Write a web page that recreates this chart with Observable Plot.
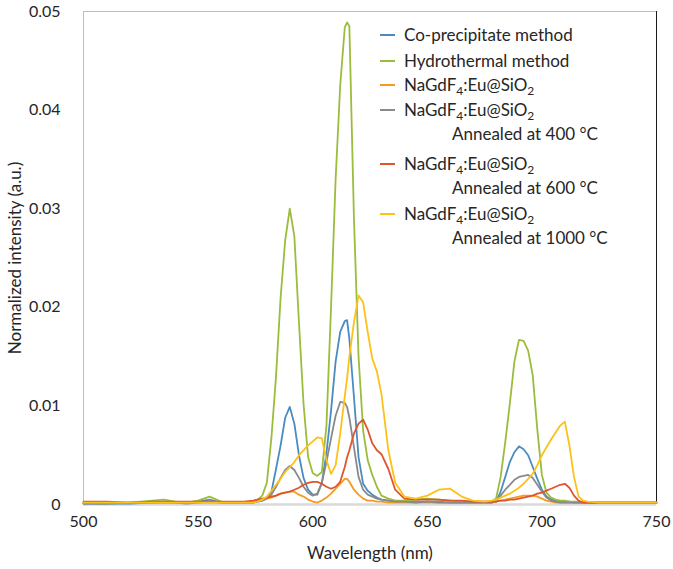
<!DOCTYPE html>
<html>
<head>
<meta charset="utf-8">
<script src="https://cdn.jsdelivr.net/npm/d3@7"></script>
<script src="https://cdn.jsdelivr.net/npm/@observablehq/plot@0.6"></script>
<style>
  html, body { margin: 0; padding: 0; background: #fff; }
  #chart svg { font-family: Lato, "Open Sans", sans-serif; }
</style>
</head>
<body>
<div id="chart"></div>
<script>
const wavelength = [500,510,520,530,535,540,545,550,555,560,
  565,570,574,576,578,580,582,584,586,588,
  590,592,594,596,598,600,602,604,606,608,
  610,612,614,615,616,618,620,622,624,626,
  628,630,633,636,640,645,650,655,660,665,
  670,675,678,680,682,684,686,688,690,692,
  694,696,698,700,702,704,706,708,710,712,
  714,716,718,720,725,730,740,750];

const coPrecipitate = [0.0001,0.0001,0.0001,0.0002,0.0003,0.0002,0.0002,0.0003,0.0005,0.0002,
  0.0002,0.0002,0.0002,0.0003,0.0004,0.0006,0.0013,0.0036,0.0060,0.0088,
  0.0099,0.0082,0.0050,0.0027,0.0015,0.0010,0.0010,0.0022,0.0052,0.0095,
  0.0145,0.0175,0.0186,0.0187,0.0168,0.0109,0.0048,0.0021,0.0014,0.0010,
  0.0007,0.0005,0.0004,0.0003,0.0003,0.0003,0.0003,0.0003,0.0002,0.0002,
  0.0002,0.0002,0.0002,0.0003,0.0013,0.0028,0.0043,0.0053,0.0059,0.0056,
  0.0050,0.0038,0.0026,0.0015,0.0008,0.0005,0.0004,0.0003,0.0003,0.0003,
  0.0002,0.0002,0.0002,0.0002,0.0002,0.0002,0.0002,0.0002];

const hydrothermal = [0.0002,0.0001,0.0002,0.0004,0.0005,0.0003,0.0002,0.0004,0.0008,0.0003,
  0.0002,0.0002,0.0003,0.0005,0.0009,0.0022,0.0068,0.0130,0.0210,0.0268,
  0.0300,0.0272,0.0185,0.0102,0.0048,0.0032,0.0029,0.0033,0.0080,0.0200,
  0.0330,0.0425,0.0484,0.0489,0.0485,0.0290,0.0150,0.0075,0.0045,0.0030,
  0.0018,0.0009,0.0006,0.0004,0.0004,0.0005,0.0006,0.0005,0.0004,0.0003,
  0.0003,0.0003,0.0003,0.0006,0.0028,0.0063,0.0102,0.0145,0.0167,0.0166,
  0.0156,0.0131,0.0076,0.0030,0.0012,0.0007,0.0005,0.0004,0.0004,0.0003,
  0.0003,0.0003,0.0002,0.0002,0.0002,0.0002,0.0002,0.0002];

const asPrepared = [0.0002,0.0002,0.0002,0.0002,0.0002,0.0002,0.0002,0.0002,0.0002,0.0002,
  0.0002,0.0002,0.0003,0.0004,0.0005,0.0006,0.0007,0.0009,0.0011,0.0012,
  0.0013,0.0013,0.0010,0.0008,0.0005,0.0003,0.0002,0.0004,0.0007,0.0011,
  0.0016,0.0021,0.0026,0.0026,0.0023,0.0015,0.0010,0.0006,0.0004,0.0004,
  0.0003,0.0003,0.0002,0.0002,0.0002,0.0002,0.0002,0.0002,0.0002,0.0002,
  0.0002,0.0002,0.0002,0.0003,0.0004,0.0005,0.0006,0.0007,0.0008,0.0009,
  0.0009,0.0009,0.0008,0.0006,0.0004,0.0003,0.0002,0.0002,0.0002,0.0002,
  0.0002,0.0002,0.0002,0.0002,0.0002,0.0002,0.0002,0.0002];

const annealed400 = [0.0001,0.0001,0.0002,0.0002,0.0002,0.0002,0.0001,0.0002,0.0003,0.0002,
  0.0002,0.0002,0.0002,0.0003,0.0004,0.0007,0.0010,0.0018,0.0027,0.0035,
  0.0039,0.0035,0.0027,0.0018,0.0012,0.0009,0.0011,0.0022,0.0043,0.0067,
  0.0090,0.0104,0.0103,0.0099,0.0088,0.0058,0.0028,0.0015,0.0010,0.0008,
  0.0006,0.0005,0.0004,0.0003,0.0003,0.0002,0.0003,0.0002,0.0002,0.0002,
  0.0002,0.0002,0.0002,0.0004,0.0009,0.0015,0.0020,0.0025,0.0028,0.0029,
  0.0030,0.0027,0.0020,0.0013,0.0007,0.0004,0.0003,0.0002,0.0002,0.0002,
  0.0002,0.0002,0.0002,0.0002,0.0002,0.0002,0.0002,0.0002];

const annealed600 = [0.0003,0.0003,0.0002,0.0003,0.0003,0.0003,0.0003,0.0003,0.0003,0.0003,
  0.0003,0.0003,0.0004,0.0005,0.0006,0.0007,0.0008,0.0009,0.0011,0.0012,
  0.0013,0.0015,0.0017,0.0020,0.0022,0.0023,0.0023,0.0021,0.0018,0.0016,
  0.0018,0.0023,0.0038,0.0048,0.0055,0.0072,0.0082,0.0086,0.0076,0.0062,
  0.0055,0.0051,0.0036,0.0015,0.0006,0.0005,0.0005,0.0005,0.0004,0.0004,
  0.0003,0.0003,0.0003,0.0003,0.0004,0.0004,0.0005,0.0005,0.0006,0.0007,
  0.0008,0.0009,0.0011,0.0012,0.0014,0.0016,0.0018,0.0020,0.0021,0.0017,
  0.0009,0.0004,0.0002,0.0002,0.0002,0.0002,0.0002,0.0002];

const annealed1000 = [0.0002,0.0002,0.0002,0.0002,0.0002,0.0002,0.0002,0.0002,0.0002,0.0002,
  0.0002,0.0002,0.0002,0.0003,0.0005,0.0008,0.0014,0.0020,0.0026,0.0033,
  0.0038,0.0043,0.0050,0.0055,0.0060,0.0064,0.0068,0.0067,0.0045,0.0031,
  0.0040,0.0072,0.0110,0.0128,0.0150,0.0185,0.0212,0.0205,0.0175,0.0148,
  0.0135,0.0112,0.0055,0.0022,0.0008,0.0006,0.0009,0.0015,0.0016,0.0008,
  0.0004,0.0003,0.0004,0.0005,0.0007,0.0009,0.0011,0.0014,0.0017,0.0021,
  0.0026,0.0031,0.0040,0.0050,0.0058,0.0066,0.0073,0.0080,0.0084,0.0060,
  0.0028,0.0008,0.0004,0.0003,0.0002,0.0002,0.0002,0.0002];

const seriesKeys = ["co", "hydro", "asprep", "a400", "a600", "a1000"];
const seriesValues = [coPrecipitate, hydrothermal, asPrepared, annealed400, annealed600, annealed1000];
const seriesColors = ["#4a8cc1", "#9cbc3c", "#f59b24", "#8a8a8a", "#e0552c", "#fdc11a"];
const legendLines = [
  [["Co-precipitate method"]],
  [["Hydrothermal method"]],
  [["NaGdF", "4", ":Eu@SiO", "2"]],
  [["NaGdF", "4", ":Eu@SiO", "2"], ["Annealed at 400 °C"]],
  [["NaGdF", "4", ":Eu@SiO", "2"], ["Annealed at 600 °C"]],
  [["NaGdF", "4", ":Eu@SiO", "2"], ["Annealed at 1000 °C"]]
];
const xTicks = [500, 550, 600, 650, 700, 750];
const yTicks = [0, 0.01, 0.02, 0.03, 0.04, 0.05];

const rows = [];
seriesKeys.forEach((k, i) => {
  wavelength.forEach((w, j) => rows.push({series: k, wl: w, v: seriesValues[i][j]}));
});

const textColor = "#262626";

const svg = Plot.plot({
  width: 673,
  height: 569,
  marginLeft: 83,
  marginRight: 17,
  marginTop: 11,
  marginBottom: 65,
  style: {fontFamily: "Lato, 'Open Sans', sans-serif", color: textColor, background: "#fff"},
  x: {domain: [500, 750]},
  y: {domain: [0, 0.05]},
  color: {domain: seriesKeys, range: seriesColors},
  marks: [
    Plot.ruleY([0], {stroke: "#d9d9d9", strokeWidth: 2.5}),
    Plot.ruleY([0.05], {stroke: "#bfbfbf", strokeWidth: 1}),
    Plot.ruleX([500], {stroke: "#bfbfbf", strokeWidth: 1}),
    Plot.ruleX([750], {stroke: "#1a1a1a", strokeWidth: 1}),
    Plot.line(rows, {x: "wl", y: "v", z: "series", stroke: "series", strokeWidth: 1.8, curve: "linear"}),
    Plot.axisX({ticks: xTicks, tickSize: 0, tickPadding: 11, fontSize: 16,
      label: "Wavelength (nm)", labelAnchor: "center", labelArrow: "none", labelOffset: 54}),
    Plot.axisY({ticks: yTicks, tickSize: 0, tickPadding: 23, fontSize: 16,
      tickFormat: d => d === 0 ? "0" : d3.format(".2f")(d),
      label: "Normalized intensity (a.u.)", labelAnchor: "center", labelArrow: "none", labelOffset: 75})
  ]
});

// enlarge axis-label font
d3.select(svg).selectAll("g[aria-label='x-axis label'] text, g[aria-label='y-axis label'] text")
  .style("font-size", "17px");

// legend drawn inside the frame
const lg = d3.select(svg).append("g")
  .attr("font-size", 17).attr("fill", textColor).attr("text-anchor", "start");
const lineRowY = [35, 61, 85, 110, 164, 214];
const secondOffset = 24;
legendLines.forEach((lines, i) => {
  const y = lineRowY[i];
  lg.append("line").attr("x1", 380).attr("x2", 395).attr("y1", y).attr("y2", y)
    .attr("stroke", seriesColors[i]).attr("stroke-width", 2);
  lines.forEach((parts, li) => {
    const t = lg.append("text")
      .attr("text-anchor", "start")
      .attr("x", li === 0 ? 404 : 452)
      .attr("y", y + li * secondOffset)
      .attr("dy", "0.36em");
    parts.forEach((p, pi) => {
      const isSub = parts.length > 1 && pi % 2 === 1;
      const ts = t.append("tspan").text(p);
      if (isSub) ts.attr("font-size", 12).attr("dy", 4);
      else if (pi > 0) ts.attr("dy", -4);
    });
  });
});

document.getElementById("chart").appendChild(svg);
</script>
</body>
</html>
